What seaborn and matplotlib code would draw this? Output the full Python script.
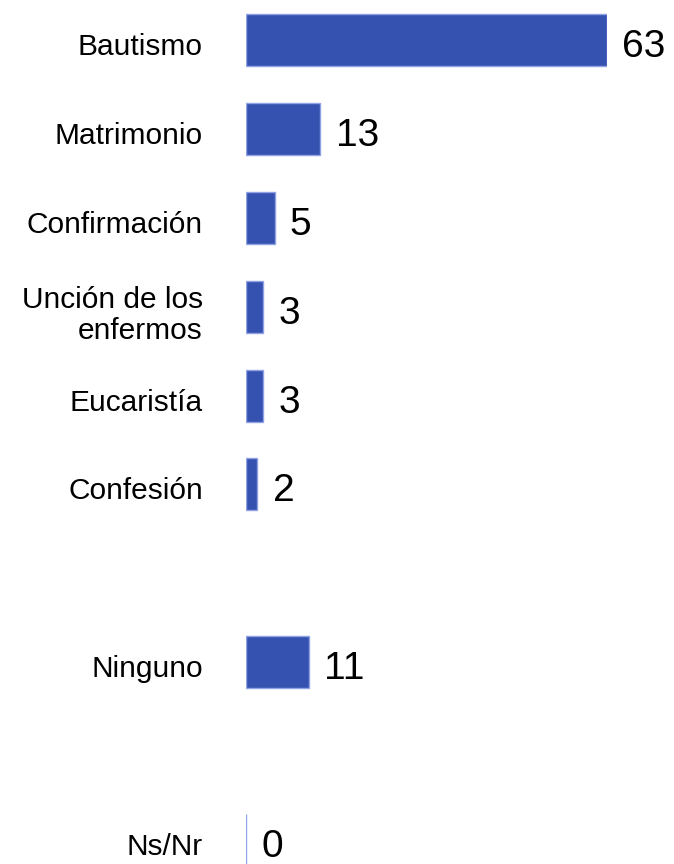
import matplotlib
matplotlib.use("Agg")
import matplotlib.pyplot as plt
import matplotlib.transforms as mtransforms
import pandas as pd
import seaborn as sns

# sacramentos recibidos (%)
categories = ["Bautismo", "Matrimonio", "Confirmación", "Unción de los\nenfermos",
              "Eucaristía", "Confesión", "Ninguno", "Ns/Nr"]
values = [63, 13, 5, 3, 3, 2, 11, 0]

df = pd.DataFrame({"cat": categories, "val": values})
# empty slots in the layout, before Ninguno and before Ns/Nr
order = categories[:6] + [" "] + ["Ninguno"] + ["  "] + ["Ns/Nr"]

sns.set_style("white")
plt.rcParams['font.family'] = ['Liberation Sans', 'DejaVu Sans']
plt.rcParams['text.color'] = 'black'
plt.rcParams['ytick.color'] = 'black'

fig = plt.figure(figsize=(6.74, 8.64), dpi=100)
ax = fig.add_axes([246 / 674, 0, (607 - 246) / 674, 1])

sns.barplot(data=df, y="cat", x="val", order=order, color="#3652b0",
            saturation=1, width=0.585, edgecolor="#8fa2e4", linewidth=1, ax=ax)

for c in ax.containers:
    labels = ax.bar_label(c, padding=11, fontsize=28, color="black")
    for t in labels:
        t.set_va("center_baseline")
        t.xyann = (11, -2.2)
        t.set_clip_on(False)

ax.set_xlim(0, 63)
ax.set_ylim(9.27, -0.45)
ax.set_xlabel("")
ax.set_ylabel("")
ax.set_xticks([])
ax.tick_params(axis="y", length=0, pad=31, labelsize=21.5, labelcolor="black")

# nudge category labels down a little
shift = mtransforms.ScaledTranslation(0, -4 / 100, fig.dpi_scale_trans)
for lbl in ax.get_yticklabels():
    lbl.set_linespacing(1.15)
    lbl.set_transform(lbl.get_transform() + shift)

sns.despine(ax=ax, left=True, bottom=True)
ax.patch.set_alpha(0)

fig.savefig("out.png", dpi=100)
